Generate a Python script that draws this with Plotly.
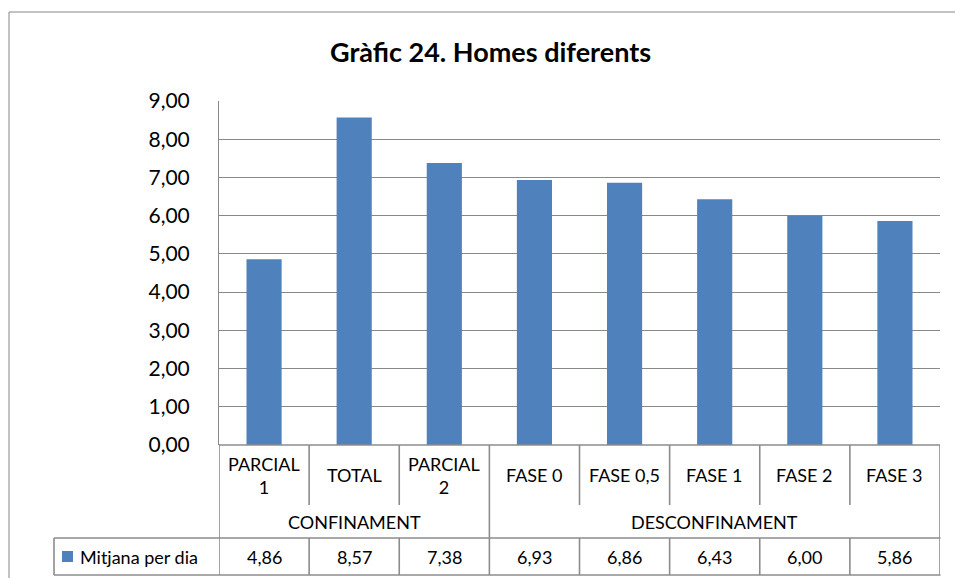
import plotly.graph_objects as go

categories = ["PARCIAL<br>1", "TOTAL", "PARCIAL<br>2", "FASE 0", "FASE 0,5", "FASE 1", "FASE 2", "FASE 3"]
groups = ["CONFINAMENT", "DESCONFINAMENT"]
group_sizes = [3, 5]
series_name = "Mitjana per dia"
values = [4.86, 8.57, 7.38, 6.93, 6.86, 6.43, 6.00, 5.86]
title = "Gràfic 24. Homes diferents"

W, H = 955, 578
FONT = "Lato"
BLUE = "#4F81BD"
GRID = "#888888"
LINE = "#8c8c8c"

def py(p):
    return 1 - p / H

def px(p):
    return p / W

x_idx = list(range(len(categories)))

fig = go.Figure()
fig.add_trace(go.Bar(x=x_idx, y=values, marker=dict(color=BLUE, line=dict(width=0)),
                     width=0.39, showlegend=False, hoverinfo="y"))

shapes = []
annotations = []

# outer chart border
shapes.append(dict(type="rect", xref="paper", yref="paper", x0=px(9), x1=px(980), y0=py(12), y1=py(600),
                   line=dict(color="#868686", width=1)))

top_t, cat_b, grp_b, dat_b = 445, 505, 538, 575
n = len(categories)
lw = 1.6
shapes.append(dict(type="line", xref="x", yref="paper", x0=-0.5, x1=n - 0.5, y0=py(top_t), y1=py(top_t),
                   line=dict(color=LINE, width=lw)))
for yy in (grp_b, dat_b):
    shapes.append(dict(type="line", xref="paper", yref="paper", x0=px(54), x1=px(940.5), y0=py(yy), y1=py(yy),
                       line=dict(color=LINE, width=lw)))
shapes.append(dict(type="line", xref="paper", yref="paper", x0=px(54), x1=px(54), y0=py(grp_b), y1=py(dat_b),
                   line=dict(color=LINE, width=lw)))
group_edges = [-0.5]
for s in group_sizes:
    group_edges.append(group_edges[-1] + s)
for i in range(n + 1):
    xb = i - 0.5
    y_end = dat_b if xb in group_edges else cat_b
    shapes.append(dict(type="line", xref="x", yref="paper", x0=xb, x1=xb, y0=py(top_t), y1=py(y_end),
                       line=dict(color=LINE, width=lw)))
for i in range(1, n):
    xb = i - 0.5
    if xb not in group_edges:
        shapes.append(dict(type="line", xref="x", yref="paper", x0=xb, x1=xb, y0=py(grp_b), y1=py(dat_b),
                           line=dict(color=LINE, width=lw)))

tf = dict(family=FONT, size=18, color="black")
for i, c in enumerate(categories):
    annotations.append(dict(x=i, y=py((top_t + cat_b) / 2), xref="x", yref="paper", text=c, showarrow=False,
                            font=tf, align="center", xanchor="center", yanchor="middle"))
    annotations.append(dict(x=i, y=py((grp_b + dat_b) / 2), xref="x", yref="paper",
                            text=f"{values[i]:.2f}".replace(".", ","), showarrow=False, font=tf,
                            xanchor="center", yanchor="middle"))
for gi, g in enumerate(groups):
    xc = (group_edges[gi] + group_edges[gi + 1]) / 2
    annotations.append(dict(x=xc, y=py((cat_b + grp_b) / 2), xref="x", yref="paper", text=g, showarrow=False,
                            font=tf, xanchor="center", yanchor="middle"))
shapes.append(dict(type="rect", xref="paper", yref="paper", x0=px(62), x1=px(73), y0=py(551), y1=py(562),
                   fillcolor=BLUE, line=dict(width=0)))
annotations.append(dict(x=px(78), y=py(556.5), xref="paper", yref="paper", text=series_name, showarrow=False,
                        xanchor="left", yanchor="middle", font=tf))
annotations.append(dict(x=px(490), y=py(51), xref="paper", yref="paper", text=f"<b>{title}</b>", showarrow=False,
                        xanchor="center", yanchor="middle",
                        font=dict(family=FONT, size=27, color="black")))

fig.update_layout(
    width=W, height=H,
    margin=dict(l=0, r=0, t=0, b=0, autoexpand=False),
    paper_bgcolor="white", plot_bgcolor="white",
    separators=",.",
    shapes=shapes, annotations=annotations,
    xaxis=dict(domain=[px(219), px(940)], range=[-0.5, n - 0.5], showticklabels=False, showgrid=False,
               zeroline=False, showline=False, fixedrange=True, automargin=False),
    yaxis=dict(domain=[py(445), py(101)], range=[0, 9], dtick=1, tickformat=".2f", showgrid=True,
               gridcolor=GRID, gridwidth=1, zeroline=False, showline=True, linecolor=GRID, linewidth=1,
               ticks="", ticklabelstandoff=24, tickfont=dict(family=FONT, size=21, color="black"),
               fixedrange=True, automargin=False),
    bargap=0.6,
)

fig.write_html("out.html", config={"displayModeBar": False},
               post_script="document.body.style.margin='0';document.body.style.overflow='hidden';")
